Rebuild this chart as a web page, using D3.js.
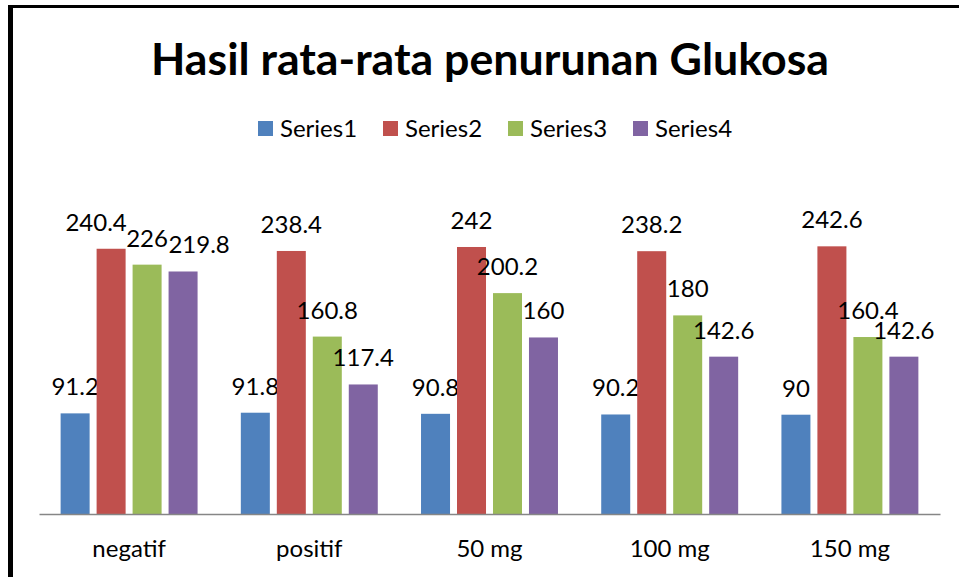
<!DOCTYPE html>
<html>
<head>
<meta charset="utf-8">
<script src="https://cdn.jsdelivr.net/npm/d3@7"></script>
<style>
  body { margin: 0; background: #fff; }
  svg { display: block; font-family: Lato, "Open Sans", sans-serif; }
</style>
</head>
<body>
<div id="chart"></div>
<script>
const categories = ["negatif", "positif", "50 mg", "100 mg", "150 mg"];
const seriesNames = ["Series1", "Series2", "Series3", "Series4"];
const series1 = [91.2, 91.8, 90.8, 90.2, 90];
const series2 = [240.4, 238.4, 242, 238.2, 242.6];
const series3 = [226, 160.8, 200.2, 180, 160.4];
const series4 = [219.8, 117.4, 160, 142.6, 142.6];
const colors = ["#4F81BD", "#C0504D", "#9BBB59", "#8064A2"];

const allSeries = [series1, series2, series3, series4];
const width = 959;
const height = 577;

// labels that Excel pushed sideways in the crowded first group
const labelNudge = { "negatif|Series2": -15, "negatif|Series4": 16 };

const svg = d3
  .select("#chart")
  .append("svg")
  .attr("width", width)
  .attr("height", height);

// chart frame (cut off on the right and bottom)
svg.append("line")
  .attr("x1", 8).attr("x2", width).attr("y1", 6.5).attr("y2", 6.5)
  .attr("stroke", "#000").attr("stroke-width", 3);
svg.append("line")
  .attr("x1", 10.5).attr("x2", 10.5).attr("y1", 5).attr("y2", height)
  .attr("stroke", "#000").attr("stroke-width", 5);

// title
svg.append("text")
  .attr("x", 490)
  .attr("y", 75)
  .attr("text-anchor", "middle")
  .style("font-size", "44.7px")
  .style("font-weight", "bold")
  .text("Hasil rata-rata penurunan Glukosa");

// scales
const x0 = d3.scaleBand()
  .domain(categories)
  .range([39, 940])
  .paddingInner(0.24)
  .paddingOuter(0.12);

const x1 = d3.scaleBand()
  .domain(seriesNames)
  .range([0, x0.bandwidth()])
  .paddingInner(0.194);

const y = d3.scaleLinear().domain([0, 300]).range([514, 183]);

// legend
const legend = svg.append("g")
  .selectAll("g")
  .data(seriesNames)
  .enter()
  .append("g")
  .attr("transform", (d, i) => `translate(${258 + i * 125},121)`);

legend.append("rect")
  .attr("width", 15)
  .attr("height", 15)
  .attr("fill", (d, i) => colors[i]);

legend.append("text")
  .attr("x", 22)
  .attr("y", 16)
  .style("font-size", "24px")
  .text((d) => d);

// bars
const groups = svg.append("g")
  .selectAll("g")
  .data(categories)
  .enter()
  .append("g")
  .attr("transform", (d) => `translate(${x0(d)},0)`);

const cells = groups.selectAll("g")
  .data((d, ci) => seriesNames.map((s, si) => ({ c: d, s, si, v: allSeries[si][ci] })))
  .enter()
  .append("g");

cells.append("rect")
  .attr("x", (d) => x1(d.s))
  .attr("y", (d) => y(d.v))
  .attr("width", x1.bandwidth())
  .attr("height", (d) => y(0) - y(d.v))
  .attr("fill", (d) => colors[d.si]);

cells.append("text")
  .attr("x", (d) => x1(d.s) + x1.bandwidth() / 2 + (labelNudge[d.c + "|" + d.s] || 0))
  .attr("y", (d) => y(d.v) - 18)
  .attr("text-anchor", "middle")
  .style("font-size", "24px")
  .text((d) => d.v);

// x axis
const xAxis = svg.append("g")
  .attr("transform", `translate(0,${y(0)})`)
  .call(d3.axisBottom(x0).tickSize(0).tickPadding(26));

xAxis.select(".domain").attr("stroke", "#868686").attr("stroke-width", 1.5);
xAxis.selectAll("text")
  .style("font-size", "24px")
  .style("font-family", "Lato, 'Open Sans', sans-serif")
  .attr("fill", "#000");
</script>
</body>
</html>
